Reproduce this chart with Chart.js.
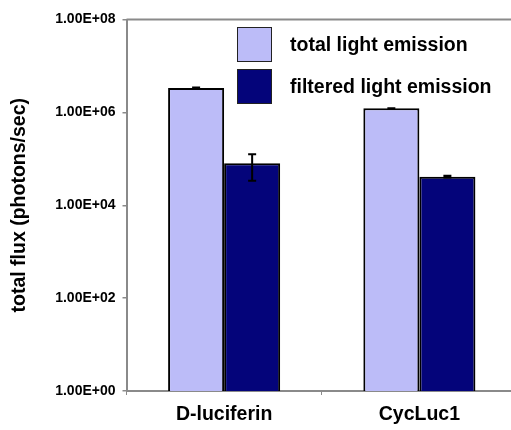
<!DOCTYPE html>
<html>
<head>
<meta charset="utf-8">
<script src="https://cdn.jsdelivr.net/npm/chart.js@4/dist/chart.umd.min.js"></script>
<style>
  html, body { margin: 0; padding: 0; background: #fff; overflow: hidden; }
  #wrap { position: relative; width: 520px; height: 430px; }
</style>
</head>
<body>
<div id="wrap"><canvas id="c" width="520" height="430"></canvas></div>
<script>
// Bioluminescence: total vs filtered photon flux per substrate
const categories = ['D-luciferin', 'CycLuc1'];
const seriesNames = ['total light emission', 'filtered light emission'];
const totalFlux = [3.35e6, 1.22e6];
const filteredFlux = [8.0e4, 4.12e4];
const totalErrLow = [3.25e6, 1.21e6];
const totalErrHigh = [3.45e6, 1.22e6];
const filteredErrLow = [3.38e4, 3.95e4];
const filteredErrHigh = [1.25e5, 4.3e4];
const yTickValues = [1, 1e2, 1e4, 1e6, 1e8];
const yTitle = 'total flux (photons/sec)';

const lightFill = '#bcbcf8';
const darkFill = '#04047a';
const axisGray = '#8a8a8a';
const FONT = '"Liberation Sans", Arial, sans-serif';

function sci(v) {
  const exp = Math.round(Math.log10(v));
  const mant = (v / Math.pow(10, exp)).toFixed(2);
  const sign = exp < 0 ? '-' : '+';
  return mant + 'E' + sign + String(Math.abs(exp)).padStart(2, '0');
}

const errorBars = {
  id: 'errorBars',
  afterDatasetsDraw(chart) {
    const ctx = chart.ctx;
    const y = chart.scales.y;
    const ranges = [[totalErrLow, totalErrHigh], [filteredErrLow, filteredErrHigh]];
    ctx.save();
    ctx.strokeStyle = '#000';
    ctx.lineWidth = 2;
    chart.data.datasets.forEach((ds, di) => {
      const meta = chart.getDatasetMeta(di);
      meta.data.forEach((bar, i) => {
        const yl = y.getPixelForValue(ranges[di][0][i]);
        const yh = y.getPixelForValue(ranges[di][1][i]);
        const x = bar.x;
        ctx.beginPath();
        ctx.moveTo(x, yl); ctx.lineTo(x, yh);
        ctx.moveTo(x - 4, yh); ctx.lineTo(x + 4, yh);
        ctx.moveTo(x - 4, yl); ctx.lineTo(x + 4, yl);
        ctx.stroke();
      });
    });
    ctx.restore();
  }
};

const frameAndLegend = {
  id: 'frameAndLegend',
  afterDraw(chart) {
    const ctx = chart.ctx;
    const a = chart.chartArea;
    ctx.save();
    // plot-area frame (top and right edges)
    ctx.strokeStyle = axisGray;
    ctx.lineWidth = 2;
    ctx.beginPath();
    ctx.moveTo(a.left, a.top);
    ctx.lineTo(a.right, a.top);
    ctx.lineTo(a.right, a.bottom);
    ctx.stroke();
    // legend inside the plot area
    const items = chart.data.datasets;
    items.forEach((ds, i) => {
      const bx = 237.5, by = 27.5 + i * 42, s = 34;
      ctx.fillStyle = ds.backgroundColor;
      ctx.fillRect(bx, by, s, s);
      ctx.strokeStyle = '#222';
      ctx.lineWidth = 1;
      ctx.strokeRect(bx, by, s, s);
      ctx.fillStyle = '#000';
      ctx.font = 'bold 19.5px ' + FONT;
      ctx.textBaseline = 'alphabetic';
      ctx.textAlign = 'left';
      ctx.fillText(ds.label, 290, by + 23.5);
    });
    ctx.restore();
  }
};

new Chart(document.getElementById('c'), {
  type: 'bar',
  data: {
    labels: categories,
    datasets: [
      { label: seriesNames[0], data: totalFlux, backgroundColor: lightFill },
      { label: seriesNames[1], data: filteredFlux, backgroundColor: darkFill }
    ]
  },
  options: {
    responsive: false,
    animation: false,
    events: [],
    layout: { padding: { top: 19.5, right: 3, left: 0, bottom: 0 } },
    datasets: {
      bar: {
        categoryPercentage: 0.574,
        barPercentage: 1,
        borderColor: '#000',
        borderWidth: 2,
        borderSkipped: 'start'
      }
    },
    plugins: {
      legend: { display: false },
      tooltip: { enabled: false }
    },
    scales: {
      x: {
        offset: true,
        border: { display: true, color: axisGray, width: 2 },
        grid: { display: true, drawOnChartArea: false, drawTicks: true, tickLength: 4, color: axisGray, lineWidth: 1 },
        ticks: { color: '#000', font: { family: FONT, size: 19.5, weight: 'bold' }, padding: 8, maxRotation: 0 },
        afterFit(scale) { scale.height = 39; }
      },
      y: {
        type: 'logarithmic',
        min: yTickValues[0],
        max: yTickValues[yTickValues.length - 1],
        border: { display: true, color: axisGray, width: 2 },
        grid: { display: true, drawOnChartArea: false, drawTicks: true, tickLength: 4, color: axisGray, lineWidth: 1.5 },
        afterBuildTicks(scale) { scale.ticks = yTickValues.map(v => ({ value: v })); },
        ticks: {
          color: '#000',
          font: { family: FONT, size: 14, weight: 'bold' },
          padding: 7,
          callback: (v) => sci(v)
        },
        title: {
          display: true,
          text: yTitle,
          color: '#000',
          font: { family: FONT, size: 19.5, weight: 'bold' },
          padding: { top: 8, bottom: 0 }
        },
        afterFit(scale) { scale.width = 126.5; }
      }
    }
  },
  plugins: [errorBars, frameAndLegend]
});
</script>
</body>
</html>
